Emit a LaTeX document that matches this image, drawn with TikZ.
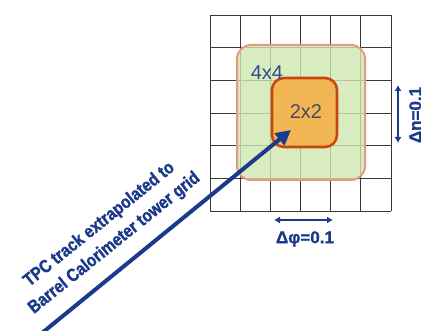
\documentclass[tikz,border=0pt]{standalone}
\usepackage{fontspec}
\setmainfont{Liberation Sans}
\newfontfamily\condbold[FakeStretch=0.86,FakeBold=1.5]{Liberation Sans Bold}
\newfontfamily\dimbold[FakeBold=1.2]{Liberation Sans Bold}
\usetikzlibrary{arrows.meta}
\definecolor{navy}{HTML}{1C3A8C}
\definecolor{gridgray}{HTML}{3A3A3A}
\definecolor{greenfill}{HTML}{CFE8B0}
\definecolor{greenedge}{HTML}{E59A82}
\definecolor{orangefill}{HTML}{F5B14A}
\definecolor{orangeedge}{HTML}{C8470E}
\definecolor{labgray}{HTML}{4A4A5E}
\definecolor{labblue}{HTML}{2C4C8E}
\tikzset{
  gridline/.style={draw=gridgray, line width=0.9pt},
  greenbox/.style={rectangle, rounded corners=14pt, fill=greenfill, fill opacity=0.8, draw=greenedge, line width=2pt, inner sep=0pt},
  orangebox/.style={rectangle, rounded corners=12pt, fill=orangefill, fill opacity=0.9, draw=orangeedge, line width=2.6pt, inner sep=0pt},
  boxlabel/.style={font=\fontsize{20}{22}\selectfont, inner sep=0pt},
  track/.style={draw=navy, line width=4pt, -{Triangle[length=15pt,width=15pt]}},
  dimarrow/.style={draw=navy, line width=1.6pt, {Latex[length=6pt,width=7pt]}-{Latex[length=6pt,width=7pt]}},
  dimlabel/.style={text=navy, font=\dimbold\fontsize{17}{19}\selectfont, inner sep=0pt},
  tracklabel/.style={text=navy, font=\condbold\fontsize{18}{24}\selectfont, align=center, inner sep=0pt}
}
\begin{document}
\begin{tikzpicture}[x=1pt,y=1pt]
\useasboundingbox (0,0) rectangle (421,330);
\fill[white] (0,0) rectangle (421,330);
% tower grid
\foreach \i in {0,...,6} {
  \draw[gridline] ({210+\i*30.1667},119) -- ({210+\i*30.1667},315);
  \draw[gridline] (210,{119+\i*32.667}) -- (391,{119+\i*32.667});
}
% clusters
\node[greenbox, minimum width=128pt, minimum height=135pt] (four) at (301,217.5) {};
\node[orangebox, minimum width=65pt, minimum height=69pt] (two) at (304.5,217.5) {};
\node[boxlabel, text=labblue] (lab4) at (267,257) {4x4};
\node[boxlabel, text=labgray] (lab2) at (306,218) {2x2};
% track
\coordinate (trackstart) at (42,-3);
\coordinate (tracktip) at (291,200);
\draw[track] (trackstart) -- (tracktip);
\node[tracklabel, rotate=38.8] (tracktext) at (107,96) {TPC track extrapolated to\\Barrel Calorimeter tower grid};
% delta phi
\coordinate (phiL) at (274,110);
\coordinate (phiR) at (333,110);
\draw[dimarrow] (phiL) -- (phiR);
\node[dimlabel] (philab) at (305,91) {Δφ=0.1};
% delta eta
\coordinate (etaT) at (398,245);
\coordinate (etaB) at (398,187);
\draw[dimarrow] (etaT) -- (etaB);
\node[dimlabel, rotate=90] (etalab) at (417,215) {Δη=0.1};
\end{tikzpicture}
\end{document}
